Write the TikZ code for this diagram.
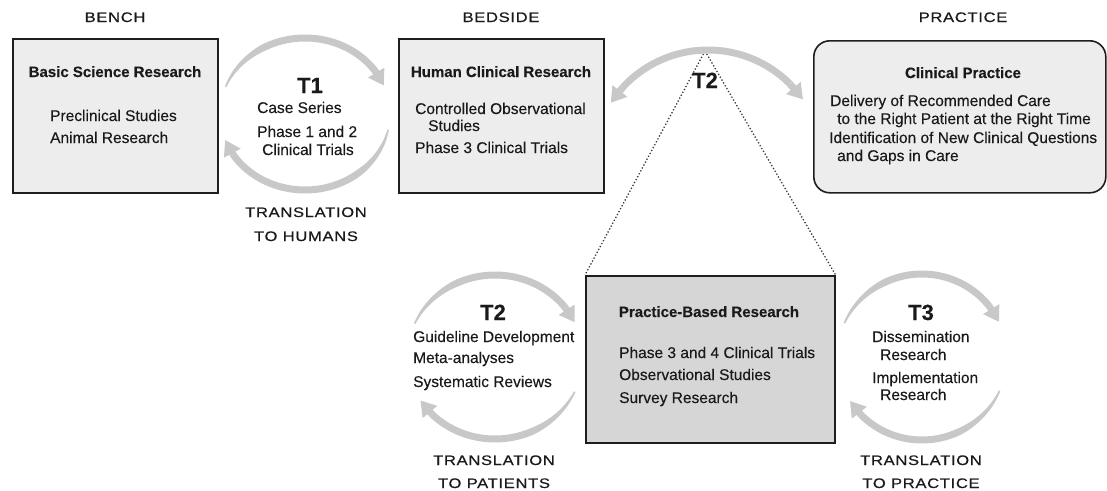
\documentclass[tikz,border=0pt]{standalone}
\usepackage{fontspec}
\setmainfont[FakeBold=0.3]{Liberation Sans}
\newfontfamily\hdrfont[LetterSpace=5,FakeStretch=1.2,FakeBold=0.6]{Liberation Sans}
\usetikzlibrary{arrows.meta}
\definecolor{arcgray}{HTML}{C8C8C8}
\definecolor{boxlight}{HTML}{EDEDED}
\definecolor{boxdark}{HTML}{D6D6D6}
\definecolor{edgecol}{HTML}{1E1E1E}
\definecolor{inkcol}{HTML}{1A1A1A}
\definecolor{dotcol}{HTML}{3A3A3A}
% tapered cycle arc: cx, cy, rx, ry, start angle, fill end angle, tip angle
\newcommand\cyclearc[7]{%
  \fill[arcgray] plot[smooth, samples=36, domain=#5:#6]
      ({#1+(#3+0.8+2.7*min(1,abs(\x-(#5))/40))*cos(\x)},{#2-(#4+0.8+2.7*min(1,abs(\x-(#5))/40))*sin(\x)})
    -- plot[smooth, samples=36, domain=#6:#5]
      ({#1+(#3-0.8-2.7*min(1,abs(\x-(#5))/40))*cos(\x)},{#2-(#4-0.8-2.7*min(1,abs(\x-(#5))/40))*sin(\x)})
    -- cycle;
  \draw[cyc] ({#1+#3*cos(#6)},{#2-#4*sin(#6)}) -- ({#1+#3*cos(#7)},{#2-#4*sin(#7)});
}
\begin{document}
\begin{tikzpicture}[x=1pt,y=-1pt,
  box/.style={draw=edgecol, line width=1.6pt, inner sep=0pt, anchor=north west},
  txt/.style={anchor=base west, inner sep=0pt, text=inkcol, font=\fontsize{15.5}{18}\selectfont},
  ttl/.style={anchor=base, inner sep=0pt, text=inkcol, font=\fontsize{15}{18}\selectfont\bfseries},
  tlab/.style={anchor=base, inner sep=0pt, text=inkcol, font=\fontsize{22}{24}\selectfont\bfseries},
  hdr/.style={anchor=base, inner sep=0pt, text=inkcol, font=\fontsize{13.8}{16}\hdrfont},
  cyc/.style={draw=arcgray, line width=7pt, -{Triangle[length=15pt,width=18pt]}},
  dotline/.style={draw=dotcol, dotted, line width=1.3pt}
]
\useasboundingbox (0,0) rectangle (1107,490);

% headers
\node[hdr] (hbench) at (115,22) {BENCH};
\node[hdr] (hbed) at (501,22) {BEDSIDE};
\node[hdr] (hprac) at (963,22) {PRACTICE};

% boxes
\node[box, fill=boxlight, minimum width=205pt, minimum height=154pt] (bsr) at (12,38) {};
\node[box, fill=boxlight, minimum width=205pt, minimum height=154pt] (hcr) at (398,38) {};
\node[box, fill=boxlight, rounded corners=16pt, minimum width=292pt, minimum height=152pt] (cp) at (813,40) {};
\node[box, fill=boxdark, minimum width=249pt, minimum height=167pt] (pbr) at (585,275) {};

% dotted zoom lines
\coordinate (apex) at (705,51);
\draw[dotline] (apex) -- (pbr.north west);
\draw[dotline] (apex) -- (pbr.north east);

% cycle arcs
\cyclearc{305}{114}{85}{76}{159}{34}{22}
\cyclearc{305}{114}{85}{76}{-12}{-148}{-160}
\cyclearc{495}{357}{88}{82}{156}{37}{25}
\cyclearc{495}{357}{88}{82}{-25}{-136}{-148}
\cyclearc{922}{357}{85}{83}{156}{37}{25}
\cyclearc{922}{357}{85}{83}{-24}{-136}{-148}

% big T2 arc with two heads
\draw[arcgray, line width=7pt] plot[smooth, samples=40, domain=137:45] ({708+116*cos(\x)},{166-116*sin(\x)});
\draw[cyc] ({708+116*cos(137)},{166-116*sin(137)}) -- ({708+116*cos(147)},{166-116*sin(147)});
\draw[cyc] ({708+116*cos(45)},{166-116*sin(45)}) -- ({708+116*cos(35)},{166-116*sin(35)});

% box 1
\node[ttl] (bsrt) at (115,77) {Basic Science Research};
\node[txt] (bsr1) at (50,121) {Preclinical Studies};
\node[txt] (bsr2) at (50,143) {Animal Research};

% T1
\node[tlab] (t1) at (310,93) {T1};
\node[txt] (t1a) at (257,113) {Case Series};
\node[txt] (t1b) at (257,137) {Phase 1 and 2};
\node[txt] (t1c) at (262,155) {Clinical Trials};
\node[hdr] (t1h1) at (306,217) {TRANSLATION};
\node[hdr] (t1h2) at (306,241) {TO HUMANS};

% box 2
\node[ttl] (hcrt) at (501,77) {Human Clinical Research};
\node[txt] (hcr1) at (415,114) {Controlled Observational};
\node[txt] (hcr2) at (428,131) {Studies};
\node[txt] (hcr3) at (415,153) {Phase 3 Clinical Trials};

% big T2
\node[tlab] (t2top) at (705,88) {T2};

% clinical practice
\node[ttl] (cpt) at (963,78) {Clinical Practice};
\node[txt] (cp1) at (830,106) {Delivery of Recommended Care};
\node[txt] (cp2) at (837,124) {to the Right Patient at the Right Time};
\node[txt] (cp3) at (829,143) {Identification of New Clinical Questions};
\node[txt] (cp4) at (837,161) {and Gaps in Care};

% lower T2
\node[tlab] (t2) at (493,320) {T2};
\node[txt] (t2a) at (413,342) {Guideline Development};
\node[txt] (t2b) at (413,363) {Meta-analyses};
\node[txt] (t2c) at (413,387) {Systematic Reviews};
\node[hdr] (t2h1) at (494,465) {TRANSLATION};
\node[hdr] (t2h2) at (494,488) {TO PATIENTS};

% practice-based research
\node[ttl] (pbrt) at (709,317) {Practice-Based Research};
\node[txt] (pbr1) at (619,358) {Phase 3 and 4 Clinical Trials};
\node[txt] (pbr2) at (619,380) {Observational Studies};
\node[txt] (pbr3) at (619,403) {Survey Research};

% T3
\node[tlab] (t3) at (921,320) {T3};
\node[txt] (t3a) at (872,342) {Dissemination};
\node[txt] (t3b) at (880,360) {Research};
\node[txt] (t3c) at (872,383) {Implementation};
\node[txt] (t3d) at (880,400) {Research};
\node[hdr] (t3h1) at (921,465) {TRANSLATION};
\node[hdr] (t3h2) at (921,488) {TO PRACTICE};
\end{tikzpicture}
\end{document}
